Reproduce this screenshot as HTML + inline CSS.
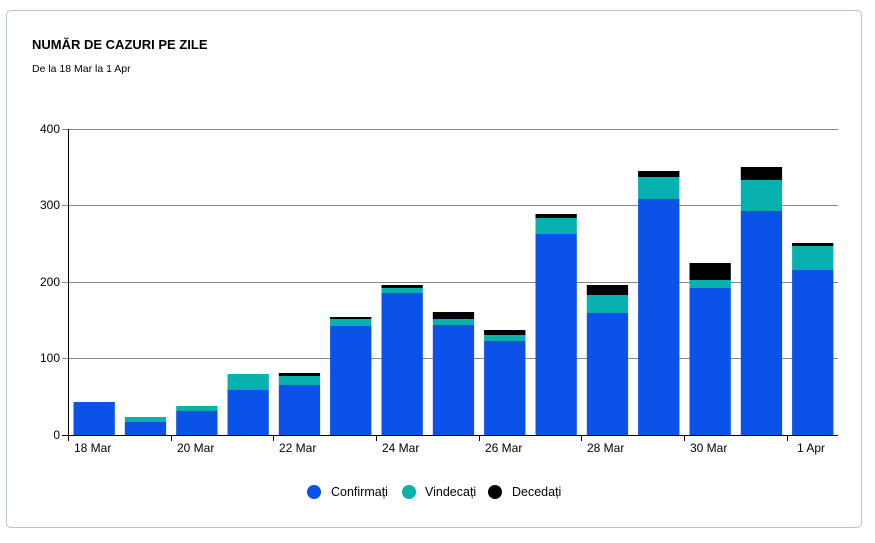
<!DOCTYPE html>
<html><head><meta charset="utf-8"><style>
body{margin:0;background:#fff;width:875px;height:543px;overflow:hidden;font-family:"Liberation Sans",sans-serif}
.card{position:absolute;left:6px;top:10px;width:856px;height:518px;border:1px solid #b8c2d0;border-radius:5px;box-sizing:border-box}
</style></head><body>
<div class="card"></div>
<svg width="875" height="543" style="position:absolute;left:0;top:0" font-family="Liberation Sans, sans-serif">
<text x="32" y="49" font-size="13" font-weight="bold" fill="#000">NUMĂR DE CAZURI PE ZILE</text>
<text x="32" y="72" font-size="10.5" fill="#000">De la 18 Mar la 1 Apr</text>
<g stroke="#888" stroke-width="1">
<line x1="62" y1="129.5" x2="838" y2="129.5"/>
<line x1="62" y1="205.5" x2="838" y2="205.5"/>
<line x1="62" y1="282.5" x2="838" y2="282.5"/>
<line x1="62" y1="358.5" x2="838" y2="358.5"/>
</g>
<g font-size="12" fill="#000" text-anchor="end">
<text x="60" y="133">400</text><text x="60" y="209">300</text><text x="60" y="286">200</text><text x="60" y="362">100</text><text x="60" y="439">0</text>
</g>
<g id="bars"></g>
<g stroke="#000" stroke-width="1">
<line x1="68.5" y1="129" x2="68.5" y2="435"/>
<line x1="62" y1="435.5" x2="838" y2="435.5"/>
<line x1="62" y1="435.5" x2="68" y2="435.5"/>
<line x1="68.5" y1="435" x2="68.5" y2="441"/>
<line x1="171.5" y1="435" x2="171.5" y2="441"/>
<line x1="273.5" y1="435" x2="273.5" y2="441"/>
<line x1="376.5" y1="435" x2="376.5" y2="441"/>
<line x1="479.5" y1="435" x2="479.5" y2="441"/>
<line x1="581.5" y1="435" x2="581.5" y2="441"/>
<line x1="684.5" y1="435" x2="684.5" y2="441"/>
<line x1="787.5" y1="435" x2="787.5" y2="441"/>
</g>
<g font-size="12" fill="#000">
<text x="74" y="452">18 Mar</text><text x="177" y="452">20 Mar</text><text x="279" y="452">22 Mar</text><text x="382" y="452">24 Mar</text><text x="485" y="452">26 Mar</text><text x="587" y="452">28 Mar</text><text x="690" y="452">30 Mar</text><text x="797" y="452">1 Apr</text>
</g>
<circle cx="314" cy="492" r="7" fill="#0b52e8"/><text x="331" y="496" font-size="12.5">Confirmați</text>
<circle cx="409" cy="492" r="7" fill="#08b0ae"/><text x="425" y="496" font-size="12.5">Vindecați</text>
<circle cx="495" cy="492" r="7" fill="#000"/><text x="512" y="496" font-size="12.5">Decedați</text>
</svg>
<script>
var d=[[402,402,402],[422,417,417],[411,406,406],[390,374,374],[385,376,373],[326,319,317],[293,288,285],[325,319,312],[341,335,330],[234,218,214],[313,295,285],[199,177,171],[288,280,263],[211,180,167],[270,246,243]];
var g=document.getElementById('bars'),s='';
d.forEach(function(b,i){var x=(68.5+51.33*i+5).toFixed(1),w=41.3;
s+='<rect x="'+x+'" y="'+b[0]+'" width="'+w+'" height="'+(435-b[0])+'" fill="#0b52e8"/>';
if(b[1]<b[0])s+='<rect x="'+x+'" y="'+b[1]+'" width="'+w+'" height="'+(b[0]-b[1])+'" fill="#08b0ae"/>';
if(b[2]<b[1])s+='<rect x="'+x+'" y="'+b[2]+'" width="'+w+'" height="'+(b[1]-b[2])+'" fill="#000"/>';});
g.innerHTML=s;
</script>
</body></html>
